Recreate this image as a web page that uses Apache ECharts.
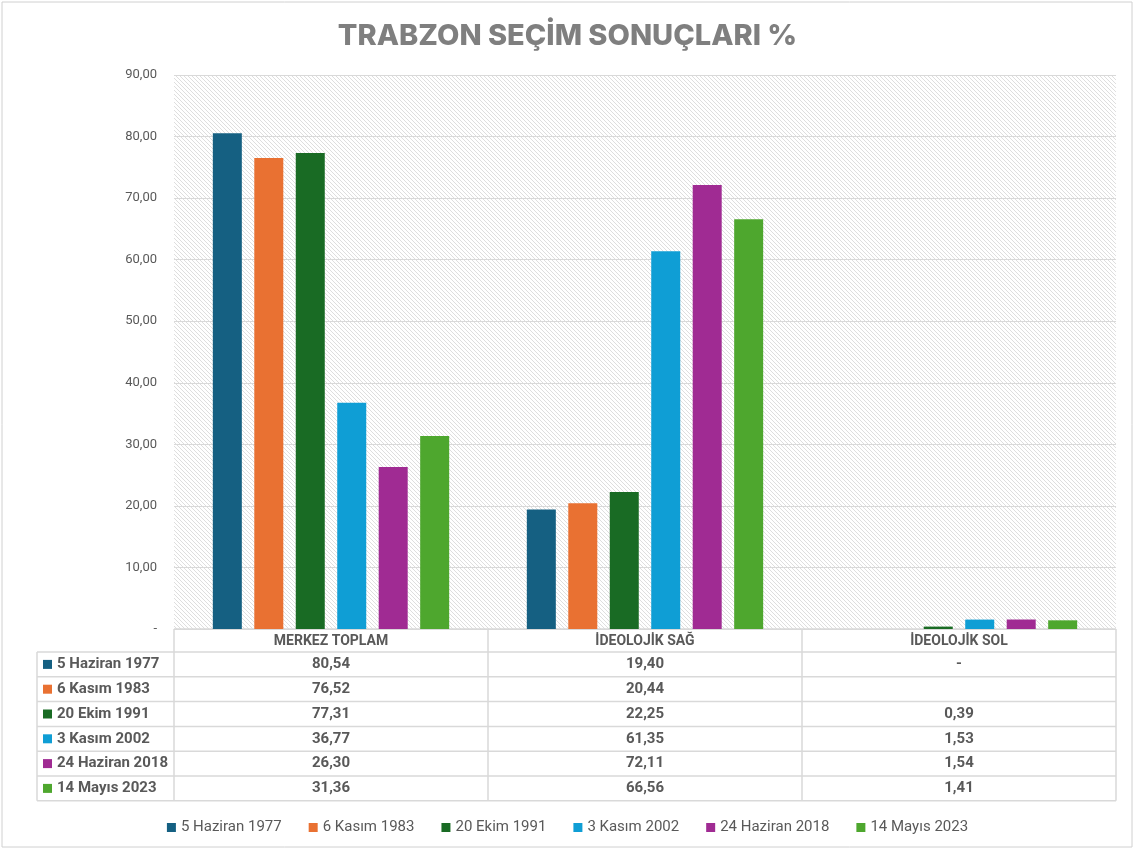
<!doctype html>
<html lang="tr">
<head>
    <meta charset="utf-8">
    <title>Trabzon Seçim Sonuçları</title>
    <script src="https://cdn.jsdelivr.net/npm/echarts@6/dist/echarts.min.js"></script>
    <style>
        html, body {margin: 0; padding: 0; background: #fff;}
        #chart {width: 1135px; height: 850px;}
    </style>
</head>
<body>
<div id="chart"></div>
<script>
    // veriler
    const categories = ['MERKEZ TOPLAM', 'İDEOLOJİK SAĞ', 'İDEOLOJİK SOL'];
    const elections = ['5 Haziran 1977', '6 Kasım 1983', '20 Ekim 1991', '3 Kasım 2002', '24 Haziran 2018', '14 Mayıs 2023'];
    const colors = ['#156082', '#E97132', '#196B24', '#0F9ED5', '#A02B93', '#4EA72E'];
    const v1977 = [80.54, 19.40, 0];
    const v1983 = [76.52, 20.44, null];
    const v1991 = [77.31, 22.25, 0.39];
    const v2002 = [36.77, 61.35, 1.53];
    const v2018 = [26.30, 72.11, 1.54];
    const v2023 = [31.36, 66.56, 1.41];
    const values = [v1977, v1983, v1991, v2002, v2018, v2023];
    const yMin = 0, yMax = 90, yStep = 10;

    const FONT = 'Roboto, "Noto Sans", sans-serif';
    const TXT = '#595959';
    const LINE = '#d9d9d9';

    function fmt(v) {
        if (v === null || v === undefined) return '';
        if (v === 0) return '-';
        return v.toFixed(2).replace('.', ',');
    }

    // tarama deseni
    function hatch() {
        const c = document.createElement('canvas');
        c.width = 4; c.height = 4;
        const ctx = c.getContext('2d');
        ctx.fillStyle = '#ffffff';
        ctx.fillRect(0, 0, 4, 4);
        ctx.strokeStyle = '#dedede';
        ctx.lineWidth = 1;
        ctx.beginPath();
        ctx.moveTo(-1, -1); ctx.lineTo(5, 5);
        ctx.moveTo(-1, 3); ctx.lineTo(1, 5);
        ctx.moveTo(3, -1); ctx.lineTo(5, 1);
        ctx.stroke();
        return c;
    }

    let chart = echarts.init(document.getElementById('chart'));

    chart.setOption({
        animation: false,
        color: colors,
        title: {
            text: 'TRABZON SEÇİM SONUÇLARI %',
            left: 'center',
            top: 17,
            textStyle: {fontFamily: 'Inter, ' + FONT, fontSize: 29, fontWeight: 800, color: '#7f7f7f'}
        },
        grid: {
            left: 174, right: 19, top: 75, bottom: 221,
            show: true,
            borderWidth: 0,
            backgroundColor: {image: hatch(), repeat: 'repeat'}
        },
        legend: {
            top: 815,
            left: 'center',
            icon: 'rect',
            itemWidth: 9,
            itemHeight: 9,
            itemGap: 27,
            textStyle: {fontFamily: FONT, fontSize: 15, color: TXT},
            data: elections
        },
        xAxis: {
            type: 'category',
            data: categories,
            axisLine: {show: false},
            axisTick: {show: false},
            axisLabel: {margin: 5, fontFamily: FONT, fontSize: 14, fontWeight: 'bold', color: TXT}
        },
        yAxis: {
            type: 'value',
            min: yMin, max: yMax, interval: yStep,
            axisLine: {show: false},
            axisTick: {show: false},
            axisLabel: {margin: 17, fontFamily: FONT, fontSize: 13, color: TXT, formatter: fmt},
            splitLine: {lineStyle: {color: LINE, width: 1}}
        },
        series: elections.map(function (name, i) {
            return {
                name: name,
                type: 'bar',
                barWidth: 29,
                barGap: '43%',
                data: values[i]
            };
        })
    });

    // veri tablosu
    function drawTable() {
        const c0 = chart.convertToPixel({xAxisIndex: 0}, categories[0]);
        const c1 = chart.convertToPixel({xAxisIndex: 0}, categories[1]);
        const band = c1 - c0;
        const left = c0 - band / 2;
        const right = left + band * categories.length;
        const top = chart.convertToPixel({yAxisIndex: 0}, yMin);
        const headH = 23, rowH = 24.8;
        const labelLeft = 37;
        const bottom = top + headH + rowH * elections.length;
        const els = [];
        const ls = {stroke: LINE, lineWidth: 1.5};

        // yatay çizgiler
        els.push({type: 'line', shape: {x1: left, y1: top, x2: right, y2: top}, style: ls});
        for (let r = 0; r <= elections.length; r++) {
            const y = top + headH + r * rowH;
            els.push({type: 'line', shape: {x1: labelLeft, y1: y, x2: right, y2: y}, style: ls});
        }
        // dikey çizgiler
        els.push({type: 'line', shape: {x1: labelLeft, y1: top + headH, x2: labelLeft, y2: bottom}, style: ls});
        for (let k = 0; k <= categories.length; k++) {
            const x = left + k * band;
            els.push({type: 'line', shape: {x1: x, y1: top, x2: x, y2: bottom}, style: ls});
        }
        // satırlar
        elections.forEach(function (name, r) {
            const yc = top + headH + r * rowH + rowH / 2;
            els.push({type: 'rect', shape: {x: 43, y: yc - 4.5, width: 9, height: 9}, style: {fill: colors[r]}});
            els.push({
                type: 'text', x: 57, y: yc,
                style: {text: name, fontFamily: FONT, fontSize: 15, fontWeight: 'bold', fill: TXT, verticalAlign: 'middle', align: 'left'}
            });
            categories.forEach(function (cat, k) {
                els.push({
                    type: 'text', x: left + k * band + band / 2, y: yc,
                    style: {text: fmt(values[r][k]), fontFamily: FONT, fontSize: 15, fontWeight: 'bold', fill: TXT, verticalAlign: 'middle', align: 'center'}
                });
            });
        });
        // dış çerçeve
        els.push({type: 'rect', shape: {x: 2, y: 2, width: 1130, height: 845}, style: {fill: 'none', stroke: '#d0d0d0', lineWidth: 1}});

        chart.setOption({graphic: {elements: els}});
    }

    drawTable();

    window.onresize = function () {
        chart.resize();
        drawTable();
    };
</script>
</body>
</html>
